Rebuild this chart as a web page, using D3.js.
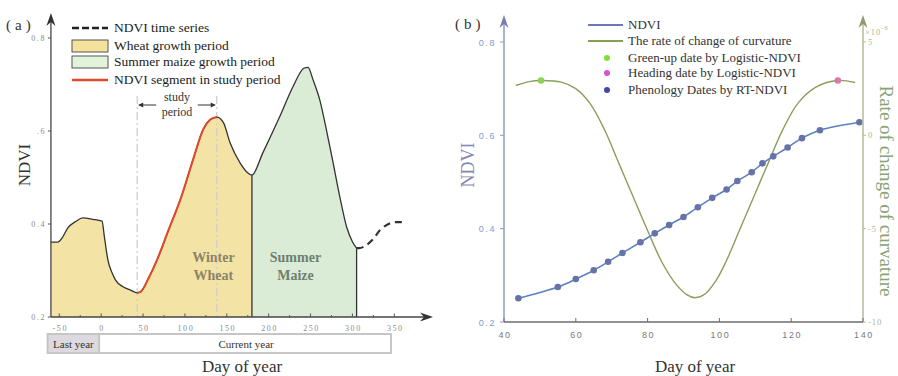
<!DOCTYPE html>
<meta charset="utf-8">
<style>
body { margin: 0; background: #fff; }
svg text { font-family: "Liberation Serif", "Times New Roman", serif; }
.tickA text { font-size: 8px; fill: #8a8a8a; letter-spacing: 1.6px; }
.tickB text { font-family: "Liberation Sans", Arial, sans-serif; font-size: 9px; letter-spacing: 1.6px; }
</style>
<svg width="898" height="376"></svg>
<script src="https://cdn.jsdelivr.net/npm/d3@7"></script>
<script>

// ---- panel (a): NDVI time series ----
var tsDay  = [-60, -52, -46, -40, -30, -22, -10, 1, 4, 8, 13, 17, 26, 35, 43, 47, 57, 67, 80, 96, 110, 122, 130, 138,
              146, 154, 166, 175, 180, 193, 213, 229, 242, 247, 253, 261, 269, 277, 285, 293, 300, 305];
var tsNdvi = [0.361, 0.361, 0.372, 0.391, 0.406, 0.413, 0.410, 0.406, 0.370, 0.323, 0.295, 0.280, 0.265, 0.258, 0.252, 0.254, 0.285, 0.324, 0.385, 0.460, 0.540, 0.604, 0.624, 0.630,
              0.618, 0.574, 0.531, 0.510, 0.505, 0.553, 0.630, 0.695, 0.735, 0.737, 0.710, 0.667, 0.602, 0.531, 0.458, 0.394, 0.362, 0.348];
var nextDay  = [305, 308, 316, 324, 333, 341, 350, 358, 364];
var nextNdvi = [0.348, 0.348, 0.354, 0.366, 0.387, 0.398, 0.404, 0.404, 0.402];

var wheatPeriod = [-60, 180];
var maizePeriod = [180, 305];
var studyPeriod = [43, 138];
var lastYear = [-64, 0], currentYear = [0, 346];

var xTicksA = [-50, 0, 50, 100, 150, 200, 250, 300, 350];
var yTicksA = [0.2, 0.4, 0.6, 0.8];
var yLabelsA = ["0.2", "0.4", ".6", "0.8"];

// ---- panel (b): RT-NDVI and curvature rate ----
var rtDay  = [44, 55, 60, 65, 69, 73, 78, 82, 86, 90, 94, 98, 102, 105, 109, 112, 115, 119, 123, 128, 139];
var rtNdvi = [0.251, 0.275, 0.292, 0.311, 0.329, 0.348, 0.371, 0.390, 0.408, 0.425, 0.446, 0.466, 0.484, 0.502, 0.521, 0.540, 0.555, 0.574, 0.594, 0.611, 0.628];
var curvDay  = [43.3, 47, 50.3, 56, 60, 64, 68, 72, 76, 80, 84, 88, 91, 93.2, 96, 99, 102, 106, 110, 114, 117.4, 122, 127, 133, 137.8];
var curvRate = [2.67, 2.88, 2.94, 2.85, 2.5, 1.7, 0.3, -1.5, -3.3, -5.1, -6.8, -8.0, -8.55, -8.7, -8.5, -7.8, -6.7, -4.9, -3.1, -1.3, 0.2, 1.75, 2.6, 2.94, 2.83];
var greenUp = [50.3, 2.94];
var heading = [133, 2.94];

var xTicksB = [40, 60, 80, 100, 120, 140];
var yTicksB = [0.2, 0.4, 0.6, 0.8];
var cTicksB = [-10, -5, 0, 5];

var svg = d3.select("svg");

function arrowUp(g, x, y, col) {
  g.append("path")
    .attr("d", "M" + x + "," + y + "L" + (x - 4.5) + "," + (y + 13) + "L" + x + "," + (y + 9) + "L" + (x + 4.5) + "," + (y + 13) + "Z")
    .attr("fill", col);
}

// =================== (a) ===================
var xA = d3.scaleLinear().domain([-50, 350]).range([59.3, 394.3]);
var yA = d3.scaleLinear().domain([0.2, 0.8]).range([317, 38]);

var ts = tsDay.map(function(d, i) { return {day: d, v: tsNdvi[i]}; });
var nx = nextDay.map(function(d, i) { return {day: d, v: nextNdvi[i]}; });

var a = svg.append("g");

var area = d3.area().curve(d3.curveMonotoneX)
    .x(function(d) { return xA(d.day); })
    .y0(yA(0.2))
    .y1(function(d) { return yA(d.v); });
var line = d3.line().curve(d3.curveMonotoneX)
    .x(function(d) { return xA(d.day); })
    .y(function(d) { return yA(d.v); });

function inRange(r) { return ts.filter(function(d) { return d.day >= r[0] && d.day <= r[1]; }); }

a.append("path").attr("d", area(inRange(wheatPeriod))).attr("fill", "#f3e3a4");
a.append("path").attr("d", area(inRange(maizePeriod))).attr("fill", "#daebd6");

// study period guides
studyPeriod.forEach(function(d) {
  a.append("line")
    .attr("x1", xA(d)).attr("x2", xA(d))
    .attr("y1", 96).attr("y2", yA(0.2))
    .attr("stroke", "#cfcfcf").attr("stroke-width", 1.3)
    .attr("stroke-dasharray", "8,3,2,3");
});

// period boundaries
[wheatPeriod[1], maizePeriod[1]].forEach(function(d) {
  var p = ts.filter(function(e) { return e.day === d; })[0];
  a.append("line")
    .attr("x1", xA(d)).attr("x2", xA(d))
    .attr("y1", yA(p.v)).attr("y2", yA(0.2))
    .attr("stroke", "#333").attr("stroke-width", 1.3);
});

a.append("path").attr("d", line(ts)).attr("fill", "none").attr("stroke", "#333").attr("stroke-width", 1.3);
a.append("path").attr("d", line(inRange(studyPeriod))).attr("fill", "none").attr("stroke", "#e04a2c").attr("stroke-width", 2);
a.append("path").attr("d", line(nx)).attr("fill", "none").attr("stroke", "#333").attr("stroke-width", 2.2)
    .attr("stroke-dasharray", "7,5");

// labels inside the areas
var wx = xA(134), mx = xA(232);
a.append("text").attr("x", wx).attr("y", 262).attr("text-anchor", "middle").attr("font-weight", "bold")
    .attr("font-size", 14).attr("fill", "#8d8467").text("Winter");
a.append("text").attr("x", wx).attr("y", 280).attr("text-anchor", "middle").attr("font-weight", "bold")
    .attr("font-size", 14).attr("fill", "#8d8467").text("Wheat");
a.append("text").attr("x", mx).attr("y", 262).attr("text-anchor", "middle").attr("font-weight", "bold")
    .attr("font-size", 14).attr("fill", "#6f7f70").text("Summer");
a.append("text").attr("x", mx).attr("y", 280).attr("text-anchor", "middle").attr("font-weight", "bold")
    .attr("font-size", 14).attr("fill", "#6f7f70").text("Maize");

// study period annotation
var sx0 = xA(studyPeriod[0]), sx1 = xA(studyPeriod[1]), sm = (sx0 + sx1) / 2;
a.append("text").attr("x", sm).attr("y", 101).attr("text-anchor", "middle").attr("font-size", 12).attr("fill", "#333").text("study");
a.append("text").attr("x", sm).attr("y", 116).attr("text-anchor", "middle").attr("font-size", 12).attr("fill", "#333").text("period");
a.append("line").attr("x1", sx0 + 2).attr("x2", sx0 + 19).attr("y1", 105).attr("y2", 105).attr("stroke", "#333");
a.append("path").attr("d", "M" + (sx0 + 1) + ",105l5,-2.5v5z").attr("fill", "#333");
a.append("line").attr("x1", sx1 - 19).attr("x2", sx1 - 2).attr("y1", 105).attr("y2", 105).attr("stroke", "#333");
a.append("path").attr("d", "M" + (sx1 - 1) + ",105l-5,-2.5v5z").attr("fill", "#333");

// axes
var ax0 = xA(-60);
a.append("line").attr("x1", ax0).attr("x2", ax0).attr("y1", yA(0.2)).attr("y2", 18).attr("stroke", "#444").attr("stroke-width", 1.3);
arrowUp(a, ax0, 13, "#333");
a.append("line").attr("x1", ax0).attr("x2", 428).attr("y1", yA(0.2)).attr("y2", yA(0.2)).attr("stroke", "#444").attr("stroke-width", 1.3);
a.append("path").attr("d", "M433," + yA(0.2) + "l-13,-4.5l4,4.5l-4,4.5z").attr("fill", "#333");

var gxa = a.append("g").attr("class", "tickA");
gxa.selectAll("line.minor").data(d3.range(-50, 375, 25)).enter().append("line")
    .attr("x1", function(d) { return xA(d); }).attr("x2", function(d) { return xA(d); })
    .attr("y1", yA(0.2)).attr("y2", function(d) { return yA(0.2) - (d % 50 === 0 ? 3.5 : 2); })
    .attr("stroke", "#555");
gxa.selectAll("text").data(xTicksA).enter().append("text")
    .attr("x", function(d) { return xA(d) + 1; }).attr("y", 331)
    .attr("text-anchor", "middle").text(function(d) { return d; });

var gya = a.append("g").attr("class", "tickA");
gya.selectAll("line").data(yTicksA).enter().append("line")
    .attr("x1", ax0 - 3).attr("x2", ax0)
    .attr("y1", function(d) { return yA(d); }).attr("y2", function(d) { return yA(d); })
    .attr("stroke", "#555");
gya.selectAll("text").data(yTicksA).enter().append("text")
    .attr("x", 46).attr("y", function(d) { return yA(d) + 3; })
    .attr("text-anchor", "end").text(function(d, i) { return yLabelsA[i]; });

// year boxes
a.append("rect").attr("x", xA(lastYear[0])).attr("y", 334).attr("width", xA(lastYear[1]) - xA(lastYear[0]) - 2).attr("height", 19)
    .attr("fill", "#dcdadf").attr("stroke", "#c6c6c6").attr("stroke-width", 2);
a.append("rect").attr("x", xA(currentYear[0]) - 2).attr("y", 334).attr("width", xA(currentYear[1]) - xA(currentYear[0]) + 2).attr("height", 19)
    .attr("fill", "#fff").attr("stroke", "#c6c6c6").attr("stroke-width", 2);
a.append("text").attr("x", (xA(lastYear[0]) + xA(lastYear[1])) / 2 - 1).attr("y", 348).attr("text-anchor", "middle")
    .attr("font-size", 11).attr("fill", "#333").text("Last year");
a.append("text").attr("x", (xA(currentYear[0]) + xA(currentYear[1])) / 2).attr("y", 348).attr("text-anchor", "middle")
    .attr("font-size", 11).attr("fill", "#333").text("Current year");

a.append("text").attr("x", 242).attr("y", 372).attr("text-anchor", "middle").attr("font-size", 17).attr("fill", "#333").text("Day of year");
a.append("text").attr("transform", "translate(30,165) rotate(-90)").attr("text-anchor", "middle").attr("font-size", 17).attr("fill", "#333").text("NDVI");
a.append("text").attr("x", 6).attr("y", 30).attr("font-size", 15).attr("fill", "#333").attr("letter-spacing", 4).text("(a)");

// legend (a)
var lg = a.append("g").attr("font-size", 13.5).attr("fill", "#222");
lg.append("line").attr("x1", 72).attr("x2", 108).attr("y1", 28).attr("y2", 28).attr("stroke", "#222").attr("stroke-width", 2.5).attr("stroke-dasharray", "7,3");
lg.append("rect").attr("x", 72).attr("y", 40).attr("width", 36).attr("height", 12).attr("fill", "#f5e39d").attr("stroke", "#555");
lg.append("rect").attr("x", 72).attr("y", 56).attr("width", 36).attr("height", 12).attr("fill", "#e1f4db").attr("stroke", "#555");
lg.append("line").attr("x1", 72).attr("x2", 108).attr("y1", 80).attr("y2", 80).attr("stroke", "#e04a2c").attr("stroke-width", 2.5);
["NDVI time series", "Wheat growth period", "Summer maize growth period", "NDVI segment in study period"].forEach(function(t, i) {
  lg.append("text").attr("x", 114).attr("y", [32, 50, 66, 84][i]).text(t);
});

// =================== (b) ===================
var xB = d3.scaleLinear().domain([40, 140]).range([504, 863]);
var yB = d3.scaleLinear().domain([0.2, 0.8]).range([322, 42]);
var yC = d3.scaleLinear().domain([-10, 5]).range([322, 42]);

var b = svg.append("g");

var curv = curvDay.map(function(d, i) { return {day: d, v: curvRate[i]}; });
var rt = rtDay.map(function(d, i) { return {day: d, v: rtNdvi[i]}; });

b.append("path")
    .attr("d", d3.line().curve(d3.curveCatmullRom).x(function(d) { return xB(d.day); }).y(function(d) { return yC(d.v); })(curv))
    .attr("fill", "none").attr("stroke", "#8b9e5c").attr("stroke-width", 1.4);

b.append("path")
    .attr("d", d3.line().curve(d3.curveCatmullRom).x(function(d) { return xB(d.day); }).y(function(d) { return yB(d.v); })(rt))
    .attr("fill", "none").attr("stroke", "#5b82c0").attr("stroke-width", 1.6);
b.selectAll("circle.rt").data(rt).enter().append("circle")
    .attr("cx", function(d) { return xB(d.day); }).attr("cy", function(d) { return yB(d.v); })
    .attr("r", 3.3).attr("fill", "#6772a6");

b.append("circle").attr("cx", xB(greenUp[0])).attr("cy", yC(greenUp[1])).attr("r", 3.3).attr("fill", "#8fd153");
b.append("circle").attr("cx", xB(heading[0])).attr("cy", yC(heading[1])).attr("r", 3.3).attr("fill", "#d77aa6");

// axes (b)
var lx = xB(40), rx = xB(140), by = yB(0.2);
b.append("line").attr("x1", lx).attr("x2", lx).attr("y1", by).attr("y2", 22).attr("stroke", "#8a9bc6").attr("stroke-width", 1.5);
arrowUp(b, lx, 15, "#7b7dad");
b.append("line").attr("x1", rx).attr("x2", rx).attr("y1", by).attr("y2", 22).attr("stroke", "#b6bb9c").attr("stroke-width", 1.5);
arrowUp(b, rx, 15, "#8c9c6a");
b.append("line").attr("x1", lx).attr("x2", rx).attr("y1", by).attr("y2", by).attr("stroke", "#6d6d6d").attr("stroke-width", 1.5);

var gxb = b.append("g").attr("class", "tickB");
gxb.selectAll("line").data(xTicksB).enter().append("line")
    .attr("x1", function(d) { return xB(d); }).attr("x2", function(d) { return xB(d); })
    .attr("y1", by).attr("y2", by - 4).attr("stroke", "#6d6d6d");
gxb.selectAll("text").data(xTicksB).enter().append("text")
    .attr("x", function(d) { return xB(d) + 1; }).attr("y", 338).attr("text-anchor", "middle")
    .attr("fill", "#7a7a7a").text(function(d) { return d; });

var gyb = b.append("g").attr("class", "tickB");
gyb.selectAll("line").data(yTicksB).enter().append("line")
    .attr("x1", lx - 4).attr("x2", lx)
    .attr("y1", function(d) { return yB(d); }).attr("y2", function(d) { return yB(d); })
    .attr("stroke", "#8a9bc6");
gyb.selectAll("text").data(yTicksB).enter().append("text")
    .attr("x", lx - 8).attr("y", function(d) { return yB(d) + 3.5; }).attr("text-anchor", "end")
    .attr("fill", "#7f9bcc").text(function(d) { return d.toFixed(1); });

var gcb = b.append("g");
gcb.selectAll("line").data(cTicksB).enter().append("line")
    .attr("x1", rx).attr("x2", rx + 3)
    .attr("y1", function(d) { return yC(d); }).attr("y2", function(d) { return yC(d); })
    .attr("stroke", "#b6bb9c");
gcb.selectAll("text").data(cTicksB).enter().append("text")
    .attr("x", rx + 5).attr("y", function(d) { return yC(d) + 3; })
    .attr("font-size", 8.5).attr("fill", "#b3b38f").attr("letter-spacing", 1).text(function(d) { return d; });
var ex = gcb.append("text").attr("x", rx + 2).attr("y", 35).attr("font-size", 8.5).attr("fill", "#b3b38f").attr("letter-spacing", 1);
ex.append("tspan").text("×10");
ex.append("tspan").attr("dy", -5).attr("font-size", 6.5).text("-6");

b.append("text").attr("x", 695).attr("y", 372).attr("text-anchor", "middle").attr("font-size", 17).attr("fill", "#333").text("Day of year");
b.append("text").attr("transform", "translate(474,165) rotate(-90)").attr("text-anchor", "middle").attr("font-size", 18).attr("fill", "#8585b5").text("NDVI");
b.append("text").attr("transform", "translate(880,191) rotate(90)").attr("text-anchor", "middle").attr("font-size", 19).attr("fill", "#8aa476").text("Rate of change of curvature");
b.append("text").attr("x", 455).attr("y", 29).attr("font-size", 15).attr("fill", "#333").attr("letter-spacing", 4).text("(b)");

// legend (b)
var lb = b.append("g").attr("font-size", 13).attr("fill", "#333");
lb.append("line").attr("x1", 588).attr("x2", 623).attr("y1", 25).attr("y2", 25).attr("stroke", "#6b78c0").attr("stroke-width", 2);
lb.append("line").attr("x1", 588).attr("x2", 623).attr("y1", 41).attr("y2", 41).attr("stroke", "#86a04c").attr("stroke-width", 2);
lb.append("circle").attr("cx", 607).attr("cy", 58).attr("r", 3).attr("fill", "#80e03a");
lb.append("circle").attr("cx", 607).attr("cy", 73).attr("r", 3).attr("fill", "#d455d0");
lb.append("circle").attr("cx", 607).attr("cy", 90).attr("r", 3).attr("fill", "#3d4ba8");
["NDVI", "The rate of change of curvature", "Green-up date by Logistic-NDVI", "Heading date by Logistic-NDVI", "Phenology Dates by RT-NDVI"].forEach(function(t, i) {
  lb.append("text").attr("x", 628).attr("y", [29, 45, 62, 77, 94][i]).text(t);
});

</script>
